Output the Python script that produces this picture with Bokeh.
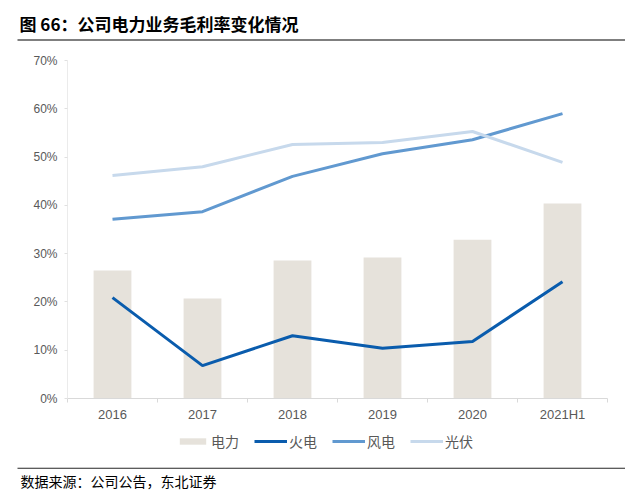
from bokeh.plotting import figure
from bokeh.layouts import column
from bokeh.models import (FixedTicker, PrintfTickFormatter, Legend, LegendItem, Label,
                          BoxAnnotation, ColumnDataSource, Range1d)
from bokeh.embed import file_html
from bokeh.resources import INLINE

categories = ["2016", "2017", "2018", "2019", "2020", "2021H1"]
power = [26.5, 20.7, 28.6, 29.2, 32.9, 40.4]      # 电力
thermal = [20.9, 6.8, 13.0, 10.4, 11.8, 24.2]     # 火电
wind = [37.1, 38.7, 46.0, 50.7, 53.6, 59.0]       # 风电
solar = [46.2, 48.0, 52.6, 53.0, 55.3, 48.9]      # 光伏
y_ticks = [0, 10, 20, 30, 40, 50, 60, 70]
series_names = ["电力", "火电", "风电", "光伏"]

title_text = "图 66：公司电力业务毛利率变化情况"
source_text = "数据来源：公司公告，东北证券"

CJK = "Noto Sans CJK SC"
LAT = "Liberation Sans"
C_BAR, C_TH, C_WI, C_SO = "#E6E2DB", "#0A5CAD", "#6199D0", "#C7D9EC"
W = 625
TOP_H, MAIN_H, BOT_H = 48, 382, 68
NAN = float("nan")


def blank(h):
    f = figure(width=W, height=h, output_backend="svg", toolbar_location=None,
               x_range=Range1d(0, W), y_range=Range1d(h, 0),
               min_border=0, min_border_left=0, min_border_right=0,
               min_border_top=0, min_border_bottom=0, frame_align=False)
    f.axis.visible = False
    f.grid.visible = False
    f.outline_line_color = None
    return f


# ---- header
top = blank(TOP_H)
top.add_layout(Label(x=19, y=23, text=title_text, text_font=CJK, text_font_size="17px",
                     text_font_style="bold", text_color="black",
                     text_baseline="middle", text_align="left"))
top.add_layout(BoxAnnotation(left=17, right=W, top=38.4, bottom=40.6,
                             fill_color="#7F7F7F", fill_alpha=1, line_color=None))

# ---- main chart
xs = [i + 0.5 for i in range(len(categories))]
src = ColumnDataSource(dict(x=xs, power=power, thermal=thermal, wind=wind, solar=solar))

p = figure(width=W, height=MAIN_H, output_backend="svg", toolbar_location=None,
           x_range=Range1d(0, len(categories)), y_range=Range1d(0, 70),
           min_border_left=67, min_border_right=18, min_border_top=12, min_border_bottom=32,
           frame_align=False)
p.outline_line_color = None
p.xgrid.visible = False
p.ygrid.visible = False

p.vbar(x="x", top="power", width=0.42, source=src, fill_color=C_BAR, line_color=None)
p.line(x="x", y="thermal", source=src, line_color=C_TH, line_width=3)
p.line(x="x", y="wind", source=src, line_color=C_WI, line_width=3)
p.line(x="x", y="solar", source=src, line_color=C_SO, line_width=3)

xa = p.xaxis[0]
xa.ticker = FixedTicker(ticks=xs, minor_ticks=list(range(len(categories) + 1)))
xa.major_label_overrides = {x: c for x, c in zip(xs, categories)}
xa.axis_line_color = "#D9D9D9"
xa.major_tick_line_color = None
xa.major_tick_in = 0
xa.major_tick_out = 0
xa.minor_tick_line_color = "#D9D9D9"
xa.minor_tick_in = 0
xa.minor_tick_out = 4
xa.major_label_standoff = 4
xa.major_label_text_font = LAT
xa.major_label_text_font_size = "13px"
xa.major_label_text_color = "#595959"

ya = p.yaxis[0]
ya.ticker = FixedTicker(ticks=y_ticks)
ya.formatter = PrintfTickFormatter(format="%d%%")
ya.axis_line_color = "#EBEBEB"
ya.major_tick_line_color = "#E0E0E0"
ya.major_tick_in = 0
ya.major_tick_out = 3
ya.minor_tick_line_color = None
ya.major_label_standoff = 7
ya.major_label_text_font = LAT
ya.major_label_text_font_size = "12px"
ya.major_label_text_color = "#595959"

# ---- footer with legend (legend keys only, no data drawn here)
bot = blank(BOT_H)
k_bar = bot.vbar(x=[NAN], top=[NAN], width=1, fill_color=C_BAR, line_color=None)
k_th = bot.line(x=[NAN], y=[NAN], line_color=C_TH, line_width=3)
k_wi = bot.line(x=[NAN], y=[NAN], line_color=C_WI, line_width=3)
k_so = bot.line(x=[NAN], y=[NAN], line_color=C_SO, line_width=3)
legend = Legend(items=[LegendItem(label=n, renderers=[r])
                       for n, r in zip(series_names, [k_bar, k_th, k_wi, k_so])],
                orientation="horizontal", location=(176, 47),
                glyph_width=33, glyph_height=8, label_height=14, label_standoff=2,
                spacing=15, padding=0, margin=0,
                border_line_color=None, background_fill_alpha=0,
                label_text_font=CJK, label_text_font_size="14px", label_text_color="#595959")
bot.add_layout(legend, "center")
bot.add_layout(BoxAnnotation(left=17, right=W, top=37.2, bottom=38.3,
                             fill_color="#262626", fill_alpha=1, line_color=None))
bot.add_layout(Label(x=20, y=50, text=source_text, text_font=CJK, text_font_size="14px",
                     text_color="black", text_baseline="middle", text_align="left"))

layout = column(top, p, bot, spacing=0)
open("out.html", "w").write(file_html(layout, INLINE))
